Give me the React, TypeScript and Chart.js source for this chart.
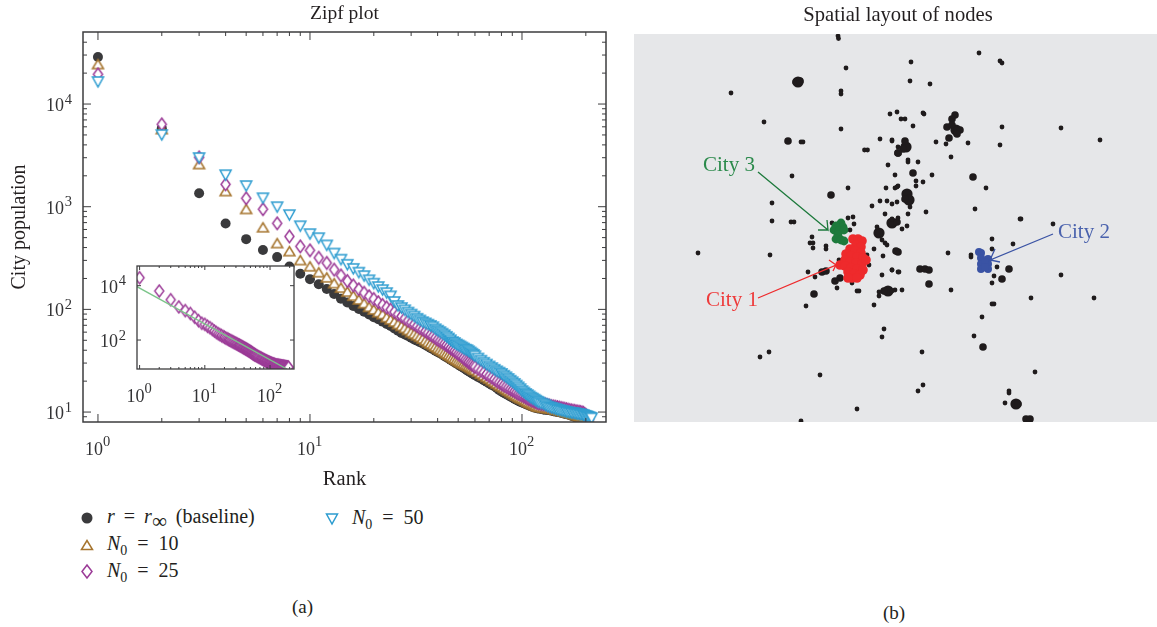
import React, { useEffect, useRef } from "react";
import { Chart, registerables } from "chart.js";

Chart.register(...registerables);

const SERIF = "'Liberation Serif', serif";
const INK = "#231f20";

const ranks = [
  1,2,3,4,5,6,7,8,9,10,11,12,13,14,15,16,17,18,19,20,21,22,23,24,25,26,27,28,29,30,
  31,32,33,34,35,36,37,38,39,40,41,42,43,44,45,46,47,48,49,50,51,52,53,54,55,56,57,58,59,60,
  62,64,66,68,70,72,74,76,78,80,82,84,86,88,90,92,94,96,98,100,102,104,106,108,110,112,114,116,118,120,
  123,126,129,132,135,138,141,144,147,150,153,156,159,162,165,168,171,174,177,180,183,186,189,192,195,198,201,204,207,210,213,
];

const baseline = [
  28700,5800,1350,686,483,378,323,262,222,197,176,158,141,127,117,108,101,95,89,84,80,76,72,69,65,62,59,57,55,53,
  51,49.5,48,46.5,45,43.5,42,41,39.5,38.5,37.5,36.3,35.2,34.2,33.2,32.3,31.5,30.6,29.8,29,28.2,27.6,27,26.3,25.5,25,24.4,23.9,23.4,22.9,
  22,21.2,20.4,19.7,19,18.4,17.8,17.2,16.4,15.9,15.4,15,14.6,14.2,13.9,13.5,13.2,12.9,12.6,12.4,12.2,12,11.8,11.6,11.4,11.3,11.1,11,10.9,10.8,
  10.7,10.6,10.5,10.45,10.4,10.3,10.2,10.1,10,9.95,9.85,9.75,9.65,9.55,9.45,9.35,9.2,9.1,9,8.9,8.75,8.6,8.5,8.4,8.3,8.2,8.1,8.05,
];
const n10 = [
  24500,5700,2600,1420,950,630,442,369,302,263,230,205,180,163,149,136,125,115,106,100,94,90,84,80,76,72,69,66,63,60,
  58,56,54,52,50,48,46.5,45,43.5,42,40.8,39.6,38.4,37.3,36.2,35.2,34.2,33.3,32.4,31.6,30.8,30.2,29.6,29,28.6,28,27.4,26.8,26.2,25.7,
  24.7,23.7,22.8,22,21.2,20.4,19.7,19,18.3,17.8,17.2,16.7,16.2,15.7,15.3,14.9,14.5,14.1,13.8,13.6,13.3,13,12.7,12.4,12.2,12,11.8,11.6,11.4,11.3,
  11.2,11.1,11,10.95,10.9,10.8,10.7,10.6,10.5,10.4,10.3,10.2,10.1,10,9.9,9.8,9.7,9.6,9.5,9.4,9.3,9.15,9.05,8.95,8.85,8.75,8.65,8.55,8.45,
];
const n25 = [
  19600,6380,3040,1660,1214,950,692,516,413,378,320,285,245,215,190,172,158,146,135,127,118,111,105,100,95,90,86,82,78,75,
  72,69,66,64,61.5,59.5,57,55,53,51,49.5,48,46.5,45,43.5,42,40.8,39.6,38.4,37,36,35,33.8,32.6,31.6,30.8,30,29.2,28.4,27.7,
  26.5,25.4,24.4,23.5,22.6,21.8,21,20.2,19.5,18.9,18.3,17.8,17.3,16.8,16.4,16,15.6,15.2,14.9,14.6,14.3,14,13.7,13.4,13.2,13,12.8,12.6,12.4,12.2,
  12.1,12,11.9,11.75,11.6,11.5,11.4,11.3,11.2,11.1,11,10.9,10.8,10.7,10.6,10.5,10.4,10.35,10.3,10.2,10.15,10.1,10.05,9.95,9.85,9.6,9.3,8.9,8.5,
];
const n50 = [
  16400,4990,2977,2030,1590,1210,990,828,646,541,494,420,350,305,272,248,228,211,192,178,165,154,144,134,118,108,103,98,93,89,
  85,81,78,75,73,71,69,67,64,62,60,58,56,54,52,50,48,47,45.5,44.5,43.5,42.5,41.5,40.5,40,39,38,37,36,35,
  33.2,31.6,30.2,29,27.8,26.8,25.8,24.9,24.2,23.5,22.6,21.8,21,20.2,19.5,18.8,18.1,17.4,16.7,16,15.5,15,14.6,14.2,13.8,13.5,13.2,12.9,12.6,12.4,
  12.1,11.9,11.6,11.3,11.1,10.95,10.8,10.65,10.5,10.4,10.3,10.2,10.1,10,9.9,9.85,9.8,9.75,9.7,9.6,9.55,9.5,9.45,9.4,9.3,9.2,9.1,9,8.9,8.8,8.7,
];
const insetLastRank = 192;
const fitLineRank = [0.912, 181];
const fitLineValue = [9190, 8.6];

const mainXPowers = [0, 1, 2];
const mainYPowers = [1, 2, 3, 4];
const insetXPowers = [0, 1, 2];
const insetYPowers = [2, 4];

type P = [number, number];
const smallNodes: P[] = [
  [838,36],[838.5,38.5],[846,68],[731,93],[841,91],[841,94],[764,122],[841,129],[890,114],[897,112],[880,139],[892,140],[864.5,150],[867.5,150],
  [898,147],[888,165],[792,176],[895,175],[848,188],[886,188],[895,188],[898,186],[880,201],[887,201],[892,204],[897,202],[772,203],[872,206],[885,214],
  [848,218],[853,217],[979,53],[1000,61],[1002,63],[911,62],[910,81],[930,84],[923,113],[924,114],[901,119],[905,119],[913,126],[936,142],[946,144],
  [968,143],[1002,127],[1000,145],[1061,128],[1100,140],[892,141],[951,157],[908,160],[908,162],[918,162],[916,181],[923,182],[916,186],[932,175],
  [986,188],[897,187],[910,207],[908,214],[926,212],[975,209],[1020,219],[892,219],[898,218],[772,221],[791,222],[794,222],[854,224],[850,230],[832,223],
  [877,227],[812,237],[810,243],[813,243],[813,248],[826,246],[826,249],[698,253],[770,255],[882,240],[885,243],[887,245],[874,249],[883,256],[867,255],
  [869,265],[864,272],[882,275],[892,270],[898,272],[839,260],[808,272],[815,277],[837,288],[852,283],[857,291],[859,291],[879,292],[879,296],[895,290],
  [806,306],[874,305],[884,329],[882,337],[769,352],[760,357],[820,375],[857,409],[801,421],[1053,224],[902,229],[907,226],[992,239],[1013,244],[992,249],
  [971,255],[971,257],[948,253],[997,267],[892,270],[899,272],[994,276],[992,283],[1061,275],[892,291],[902,290],[951,290],[1031,298],[1094,298],
  [992,304],[994,304],[982,317],[974,336],[922,352],[1035,372],[923,385],[918,391],[1009,391],[1009,393],[1005,403],[801,142],[803,142],[1021,219],
];
const largeNodes: P[] = [
  [796,82],[800,81],[788,141],[898,153],[831,195],[955,115],[952,119],[947,127],[952,125],[957,130],[960,130],[957,134],[949,138],
  [905,141],[903,149],[898,153],[913,173],[973,177],[905,199],[879,233],[892,223],[897,222],
  [898,252],[822,272],[826,271],[840,278],[835,281],[814,294],[889,291],[884,291],[896,251],[920,269],[925,269],[929,270],
  [1009,269],[1002,279],[929,284],[983,347],[1015,404],[1018,404],[1026,419],[1030,419],
];
const hubNodes: P[] = [
  [798,82],[906,147],[907,194],[909,200],[956,130],[892,223],[888,291],[879,233],[1016,404],
];
const redNodes: P[] = [
  [853,239],[858,239],[862,241],[856,245],[861,247],[850,249],[855,251],[861,253],[846,254],[851,256],[857,257],[863,258],[845,260],[850,262],[856,263],[862,264],
  [866,260],[840,265],[845,266],[851,268],[857,269],[863,270],[848,272],[854,274],[860,275],[852,278],[857,278],[848,278],
];
const greenNodes: P[] = [
  [841,223],[836,226],[843,227],[834,230],[839,231],[844,230],[838,235],[836,239],[841,240],[844,241],
];
const blueNodes: P[] = [
  [979,252],[981,253],[981,258],[988,259],[981,264],[988,264],[981,269],[988,269],[985,262],[985,267],
];
const city3ArrowX = [758, 828, 827, 828, 818];
const city3ArrowY = [172, 230, 220, 230, 230];
const city1ArrowX = [758, 836, 829, 836, 833];
const city1ArrowY = [298, 265, 260, 265, 271];
const city2ArrowX = [1053, 990, 995, 990, 1000];
const city2ArrowY = [234, 260, 249, 260, 262];

const COLORS = { black: "#3a3a3c", brown: "#a6752f", purple: "#9b3a97", blue: "#2c9cd0" };

function marker(shape: "up" | "down" | "diamond", color: string, w: number, h: number, lw: number) {
  const pad = 2;
  const c = document.createElement("canvas");
  c.width = w + pad * 2;
  c.height = h + pad * 2;
  const g = c.getContext("2d")!;
  g.translate(pad, pad);
  g.beginPath();
  if (shape === "up") { g.moveTo(w / 2, 0); g.lineTo(w, h); g.lineTo(0, h); }
  if (shape === "down") { g.moveTo(0, 0); g.lineTo(w, 0); g.lineTo(w / 2, h); }
  if (shape === "diamond") { g.moveTo(w / 2, 0); g.lineTo(w, h / 2); g.lineTo(w / 2, h); g.lineTo(0, h / 2); }
  g.closePath();
  g.fillStyle = "#fff";
  g.fill();
  g.strokeStyle = color;
  g.lineWidth = lw;
  g.lineJoin = "miter";
  g.stroke();
  return c;
}

type FrameOpts = { major: number; minor: number; xp: number[]; yp: number[]; yMinor: boolean; lw: number; whiteBg: boolean };

function framePlugin(o: FrameOpts) {
  return {
    id: "frame",
    beforeDatasetsDraw(chart: any) {
      const { left, right, top, bottom } = chart.chartArea;
      const g = chart.ctx;
      if (o.whiteBg) {
        g.save();
        g.fillStyle = "#fff";
        g.fillRect(left, top, right - left, bottom - top);
        g.restore();
      }
    },
    afterDraw(chart: any) {
      const { left, right, top, bottom } = chart.chartArea;
      const g = chart.ctx;
      const sx = chart.scales.x;
      const sy = chart.scales.y;
      g.save();
      g.strokeStyle = "#3c3c3e";
      g.lineWidth = o.lw;
      g.strokeRect(left, top, right - left, bottom - top);
      g.lineWidth = 1;
      const kind = (v: number) => {
        const e = Math.floor(Math.log10(v) + 1e-9);
        const m = v / Math.pow(10, e);
        if (Math.abs(m - Math.round(m)) > 1e-6) return 0;
        return Math.round(m) === 1 ? 2 : 1;
      };
      g.beginPath();
      for (const t of sx.ticks) {
        const k = kind(t.value);
        if (!k) continue;
        const p = sx.getPixelForValue(t.value);
        if (p < left + 1 || p > right - 1) continue;
        const l = k === 2 ? o.major : o.minor;
        g.moveTo(p, bottom); g.lineTo(p, bottom - l);
        g.moveTo(p, top); g.lineTo(p, top + l);
      }
      for (const t of sy.ticks) {
        const k = kind(t.value);
        if (!k) continue;
        if (k === 1 && !o.yMinor) continue;
        if (k === 2 && !o.yMinor && !o.yp.includes(Math.round(Math.log10(t.value)))) continue;
        const p = sy.getPixelForValue(t.value);
        if (p < top + 1 || p > bottom - 1) continue;
        const l = k === 2 ? o.major : o.minor;
        g.moveTo(left, p); g.lineTo(left + l, p);
        g.moveTo(right, p); g.lineTo(right - l, p);
      }
      g.stroke();
      g.fillStyle = "#333335";
      g.textBaseline = "alphabetic";
      for (const e of o.xp) {
        const p = sx.getPixelForValue(Math.pow(10, e));
        g.textAlign = "left";
        g.font = `18px ${SERIF}`;
        g.fillText("10", p - 13, bottom + 32.5);
        g.font = `14.5px ${SERIF}`;
        g.fillText(String(e), p + 5, bottom + 23.5);
      }
      for (const e of o.yp) {
        const p = sy.getPixelForValue(Math.pow(10, e));
        g.textAlign = "right";
        g.font = `14.5px ${SERIF}`;
        g.fillText(String(e), left - 11, p - 0.5);
        g.font = `18px ${SERIF}`;
        g.fillText("10", left - 19, p + 7);
      }
      g.restore();
    },
  };
}

function toXY(vals: number[], rs: number[]) {
  return vals.map((y, i) => ({ x: rs[i], y }));
}
function toPts(ps: P[]) {
  return ps.map(([x, y]) => ({ x, y }));
}
function zip(xs: number[], ys: number[]) {
  return xs.map((x, i) => ({ x, y: ys[i] }));
}

const box = (left: number, top: number, extra: React.CSSProperties = {}): React.CSSProperties => ({
  position: "absolute", left, top, whiteSpace: "nowrap", fontFamily: SERIF, fontSize: 20, lineHeight: "24px", color: INK, wordSpacing: 5, ...extra,
});
const Sub0 = () => <sub style={{ fontSize: 14, lineHeight: 0, verticalAlign: -5 }}>0</sub>;

export default function App() {
  const mainRef = useRef<HTMLCanvasElement>(null);
  const insetRef = useRef<HTMLCanvasElement>(null);
  const mapRef = useRef<HTMLCanvasElement>(null);

  useEffect(() => {
    document.body.style.margin = "0";
    const up = marker("up", COLORS.brown, 11, 9, 1.5);
    const diamond = marker("diamond", COLORS.purple, 9, 12.5, 1.5);
    const down = marker("down", COLORS.blue, 11, 10, 1.5);
    const smallDiamond = marker("diamond", COLORS.purple, 9, 12, 1.4);

    const main = new Chart(mainRef.current!, {
      type: "scatter",
      data: {
        datasets: [
          { label: "r = r∞ (baseline)", data: toXY(baseline, ranks), order: 4, pointStyle: "circle", pointRadius: 5, backgroundColor: COLORS.black, borderColor: COLORS.black, borderWidth: 0 },
          { label: "N0 = 10", data: toXY(n10, ranks), order: 3, pointStyle: up, pointRadius: 6 },
          { label: "N0 = 25", data: toXY(n25, ranks), order: 2, pointStyle: diamond, pointRadius: 6 },
          { label: "N0 = 50", data: toXY(n50, ranks), order: 1, pointStyle: down, pointRadius: 6 },
        ],
      },
      options: {
        animation: false, responsive: false,
        layout: { autoPadding: false, padding: { top: 0, right: 83, bottom: 0, left: 0 } },
        plugins: {
          legend: { display: false }, tooltip: { enabled: false },
          title: { display: true, fullSize: false, text: "Zipf plot", color: INK, font: { family: SERIF, size: 19.5, weight: "normal", lineHeight: 1.2 }, padding: { top: 2, bottom: 6.6 } },
        },
        scales: {
          x: {
            type: "logarithmic", min: 0.85, max: 249,
            grid: { display: false }, border: { display: false },
            ticks: { display: false, autoSkip: false },
            title: { display: true, text: "Rank", color: INK, font: { family: SERIF, size: 20.5 }, padding: { top: 0, bottom: 3 } },
            afterFit: (s: any) => { s.height = 73; },
          },
          y: {
            type: "logarithmic", min: 8, max: 50300,
            grid: { display: false }, border: { display: false },
            ticks: { display: false, autoSkip: false },
            title: { display: true, text: "City population", color: INK, font: { family: SERIF, size: 20 }, padding: { top: 8, bottom: 0 } },
            afterFit: (s: any) => { s.width = 83; },
          },
        },
      } as any,
      plugins: [framePlugin({ major: 8, minor: 4, xp: mainXPowers, yp: mainYPowers, yMinor: true, lw: 1.5, whiteBg: false })],
    });

    const insetRanks = ranks.filter((r) => r <= insetLastRank);
    const inset = new Chart(insetRef.current!, {
      type: "scatter",
      data: {
        datasets: [
          { label: "fit", data: zip(fitLineRank, fitLineValue), showLine: true, order: 1, pointRadius: 0, borderColor: "#7cc58a", borderWidth: 1.3 },
          { label: "N0 = 25", data: toXY(n25.slice(0, insetRanks.length), insetRanks), order: 2, pointStyle: smallDiamond, pointRadius: 5 },
        ],
      },
      options: {
        animation: false, responsive: false,
        layout: { autoPadding: false, padding: { top: 11, right: 11, bottom: 0, left: 0 } },
        plugins: { legend: { display: false }, tooltip: { enabled: false } },
        scales: {
          x: {
            type: "logarithmic", min: 0.912, max: 233,
            grid: { display: false }, border: { display: false },
            ticks: { display: false, autoSkip: false },
            afterFit: (s: any) => { s.height = 46; },
          },
          y: {
            type: "logarithmic", min: 8.6, max: 53000,
            grid: { display: false }, border: { display: false },
            ticks: { display: false, autoSkip: false },
            afterFit: (s: any) => { s.width = 47; },
          },
        },
      } as any,
      plugins: [framePlugin({ major: 4, minor: 2, xp: insetXPowers, yp: insetYPowers, yMinor: false, lw: 1.3, whiteBg: true })],
    });

    const mapBg = {
      id: "mapBg",
      beforeDatasetsDraw(chart: any) {
        const { left, right, top, bottom } = chart.chartArea;
        chart.ctx.save();
        chart.ctx.fillStyle = "#e6e7e9";
        chart.ctx.fillRect(left, top, right - left, bottom - top);
        chart.ctx.restore();
      },
    };
    const node = (label: string, d: P[], c: string, r: number, order: number) => ({
      label, data: toPts(d), order, pointRadius: r, borderWidth: 0, backgroundColor: c, borderColor: c,
    });
    const arrow = (label: string, xs: number[], ys: number[], c: string) => ({
      label, data: zip(xs, ys), showLine: true, order: 0, pointRadius: 0, borderColor: c, borderWidth: 1.3,
    });
    const map = new Chart(mapRef.current!, {
      type: "scatter",
      data: {
        datasets: [
          arrow("City 3 arrow", city3ArrowX, city3ArrowY, "#1d7a3c"),
          arrow("City 1 arrow", city1ArrowX, city1ArrowY, "#ee2a2c"),
          arrow("City 2 arrow", city2ArrowX, city2ArrowY, "#3a53a4"),
          node("City 1", redNodes, "#ee2a2c", 4.8, 1),
          node("City 3", greenNodes, "#1d7a3c", 4.4, 2),
          node("City 2", blueNodes, "#3a53a4", 4, 3),
          node("Nodes", smallNodes, "#1f1b1c", 2.4, 4),
          node("Clusters", largeNodes, "#1f1b1c", 3.8, 5),
          node("Hubs", hubNodes, "#1f1b1c", 5.6, 6),
        ],
      },
      options: {
        animation: false, responsive: false,
        layout: { autoPadding: false, padding: { top: 0, right: 0, bottom: 1, left: 0 } },
        plugins: {
          legend: { display: false }, tooltip: { enabled: false },
          title: { display: true, text: "Spatial layout of nodes", color: INK, font: { family: SERIF, size: 20.6, weight: "normal", lineHeight: 1.2 }, padding: { top: 3.5, bottom: 5.8 } },
        },
        scales: {
          x: { type: "linear", min: 634, max: 1162, display: false },
          y: { type: "linear", min: 34, max: 422, reverse: true, display: false },
        },
      } as any,
      plugins: [mapBg],
    });

    return () => { main.destroy(); inset.destroy(); map.destroy(); };
  }, []);

  return (
    <div style={{ position: "relative", width: 1157, height: 627, overflow: "hidden", background: "#fff" }}>
      <canvas ref={mapRef} width={528} height={423} style={{ position: "absolute", left: 634, top: 0 }} />
      <canvas ref={mainRef} width={689} height={495} style={{ position: "absolute", left: 0, top: 0 }} />
      <canvas ref={insetRef} width={215} height={160} style={{ position: "absolute", left: 90, top: 255 }} />

      <span style={box(703, 152, { color: "#2b8a4b", fontSize: 21, wordSpacing: 0 })}>City 3</span>
      <span style={box(706, 287, { color: "#ee3b3b", fontSize: 21, wordSpacing: 0 })}>City 1</span>
      <span style={box(1058, 219, { color: "#4a62ad", fontSize: 21, wordSpacing: 0 })}>City 2</span>

      <svg width="360" height="90" style={{ position: "absolute", left: 0, top: 500 }}>
        <circle cx="87" cy="18" r="5.5" fill={COLORS.black} />
        <path d="M81.5 49.5 L87 40.5 L92.5 49.5 Z" fill="#fff" stroke={COLORS.brown} strokeWidth="1.5" />
        <path d="M87 65 L92 71.5 L87 78 L82 71.5 Z" fill="#fff" stroke={COLORS.purple} strokeWidth="1.5" />
        <path d="M326.5 14 L337.5 14 L332 24 Z" fill="#fff" stroke={COLORS.blue} strokeWidth="1.5" />
      </svg>
      <span style={box(107, 504, { wordSpacing: 4 })}><i>r</i> = <i>r</i><sub style={{ fontSize: 21, lineHeight: 0, verticalAlign: -5 }}>∞</sub> (baseline)</span>
      <span style={box(107, 531)}><i>N</i><Sub0 /> = 10</span>
      <span style={box(107, 558)}><i>N</i><Sub0 /> = 25</span>
      <span style={box(352, 505)}><i>N</i><Sub0 /> = 50</span>

      <span style={box(292, 595, { fontSize: 19 })}>(a)</span>
      <span style={box(883, 601, { fontSize: 19 })}>(b)</span>
    </div>
  );
}
